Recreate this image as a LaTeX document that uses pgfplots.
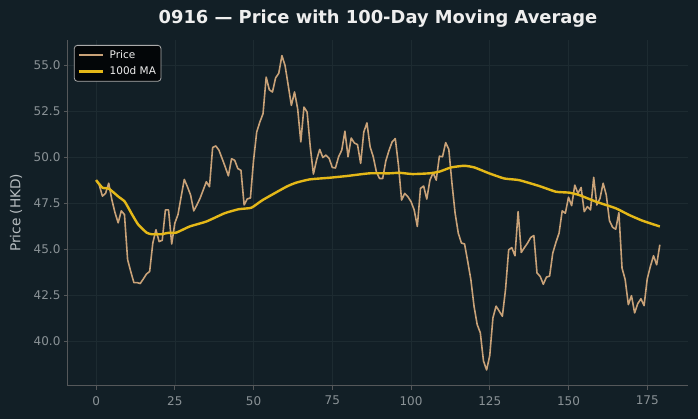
\documentclass[border=0pt]{standalone}
\usepackage{fontspec}
\setmainfont{DejaVu Sans}
\usepackage{pgfplots}
\usepackage{pgfplotstable}
\pgfplotsset{compat=1.18}
\definecolor{bg}{RGB}{18,31,38}
\definecolor{gridc}{RGB}{29,43,49}
\definecolor{spine}{RGB}{85,88,90}
\definecolor{tickc}{RGB}{138,146,150}
\definecolor{labc}{RGB}{184,190,193}
\definecolor{titc}{RGB}{238,238,238}
\definecolor{pricec}{RGB}{201,162,120}
\definecolor{mac}{RGB}{228,184,24}
\definecolor{legbg}{RGB}{3,6,8}
\definecolor{legbd}{RGB}{170,170,170}

\pgfplotstableread{
x y
0 48.77
1 48.5
2 47.9
3 48.05
4 48.6
5 47.7
6 47.0
7 46.45
8 47.1
9 46.9
10 44.45
11 43.8
12 43.2
13 43.2
14 43.15
15 43.4
16 43.67
17 43.8
18 45.35
19 46.07
20 45.43
21 45.5
22 47.15
23 47.15
24 45.3
25 46.43
26 46.9
27 47.87
28 48.81
29 48.41
30 47.96
31 47.1
32 47.42
33 47.78
34 48.23
35 48.68
36 48.41
37 50.54
38 50.63
39 50.4
40 49.95
41 49.49
42 49.0
43 49.93
44 49.85
45 49.4
46 49.3
47 47.42
48 47.75
49 47.8
50 49.86
51 51.39
52 51.93
53 52.38
54 54.37
55 53.68
56 53.56
57 54.33
58 54.58
59 55.54
60 55.0
61 53.92
62 52.83
63 53.56
64 52.65
65 50.85
66 52.74
67 52.47
68 50.58
69 49.1
70 49.86
71 50.44
72 50.0
73 50.13
74 49.95
75 49.46
76 49.43
77 50.04
78 50.4
79 51.43
80 50.04
81 51.06
82 50.79
83 50.7
84 49.68
85 51.39
86 51.88
87 50.58
88 50.04
89 49.22
90 48.86
91 48.86
92 49.82
93 50.38
94 50.85
95 51.03
96 49.59
97 47.69
98 48.05
99 47.87
100 47.6
101 47.15
102 46.25
103 48.32
104 48.45
105 47.74
106 48.77
107 49.17
108 48.77
109 50.07
110 50.04
111 50.81
112 50.44
113 48.59
114 46.97
115 45.89
116 45.35
117 45.3
118 44.35
119 43.36
120 41.92
121 40.92
122 40.47
123 38.94
124 38.45
125 39.24
126 41.28
127 41.92
128 41.65
129 41.37
130 42.82
131 44.98
132 45.1
133 44.66
134 47.06
135 44.84
136 45.1
137 45.35
138 45.65
139 45.76
140 43.72
141 43.54
142 43.11
143 43.5
144 43.55
145 44.8
146 45.38
147 45.89
148 47.1
149 46.97
150 47.84
151 47.38
152 48.5
153 48.05
154 48.37
155 47.06
156 47.33
157 47.15
158 48.92
159 47.42
160 47.78
161 48.6
162 47.96
163 46.57
164 46.21
165 46.1
166 47.0
167 43.99
168 43.36
169 42.0
170 42.49
171 41.55
172 42.06
173 42.32
174 41.95
175 43.4
176 44.08
177 44.66
178 44.17
179 45.26
}\pricetable

\pgfplotstableread{
x y
0 48.77
2 48.36
4.1 48.3
7.1 47.87
9.1 47.6
11.2 46.97
13.3 46.37
16 45.92
17.6 45.83
20.7 45.83
22.8 45.9
25.5 45.92
29.7 46.25
35 46.52
40.8 46.97
45.3 47.19
49.3 47.27
52.9 47.69
60.4 48.41
63.5 48.63
67.8 48.81
74.1 48.9
79.4 48.99
86.8 49.14
93.1 49.14
96.3 49.17
100.5 49.1
105.8 49.14
109 49.23
112.7 49.46
116.9 49.55
120.1 49.46
124.8 49.14
129.6 48.86
134.3 48.77
140.7 48.45
146 48.14
150.2 48.09
153.4 47.96
158.7 47.6
165 47.24
169.2 46.88
173.4 46.57
179 46.25
}\matable

\begin{document}
\begin{tikzpicture}
\path[use as bounding box, fill=bg] (-68bp,-33bp) rectangle (630.7bp,386bp);
\begin{axis}[
  name=ax,
  at={(0,0)}, anchor=south west,
  width=620.7bp, height=346bp, scale only axis,
  xmin=-8.95, xmax=187.95,
  ymin=37.6, ymax=56.39,
  axis lines=left,
  x axis line style={-, draw=spine, line width=0.9bp},
  y axis line style={-, draw=spine, line width=0.9bp},
  tick align=outside,
  major tick length=4bp,
  tick style={draw=spine, line width=0.9bp},
  xtick={0,25,...,175},
  ytick={40,42.5,...,55},
  grid=major,
  major grid style={draw=gridc, line width=0.6bp},
  /pgf/number format/assume math mode=true,
  ticklabel style={font=\fontsize{12bp}{14bp}\selectfont, text=tickc},
  yticklabel style={/pgf/number format/.cd, fixed, fixed zerofill, precision=1},
  xticklabel style={/pgf/number format/.cd, fixed, /tikz/yshift=-3bp},
  ylabel={Price (HKD)},
  every axis y label/.style={at={(rel axis cs:0,0.5)}, rotate=90, anchor=center, yshift=52bp, font=\fontsize{13.7bp}{16bp}\selectfont, text=labc},
  title={\textbf{0916 — Price with 100-Day Moving Average}},
  title style={font=\fontsize{17.9bp}{20bp}\selectfont, text=titc, at={(0.5,1)}, anchor=base, yshift=10bp},
  legend style={at={(0.0097,0.9855)}, anchor=north west, fill=legbg, draw=legbd, line width=0.8bp, rounded corners=3bp, font=\fontsize{10.5bp}{12bp}\selectfont, text=titc, inner xsep=3bp, inner ysep=3bp, row sep=3bp},
  legend cell align=left,
  legend image code/.code={\draw[#1] (0bp,0bp) -- (24bp,0bp); \path (28bp,0bp);},
]
\addplot[pricec, line width=1.6bp, line join=round] table[x=x,y=y] {\pricetable};
\addlegendentry{Price}
\addplot[mac, line width=2.4bp, smooth, tension=0.3] table[x=x,y=y] {\matable};
\addlegendentry{100d MA}
\end{axis}
\end{tikzpicture}
\end{document}
